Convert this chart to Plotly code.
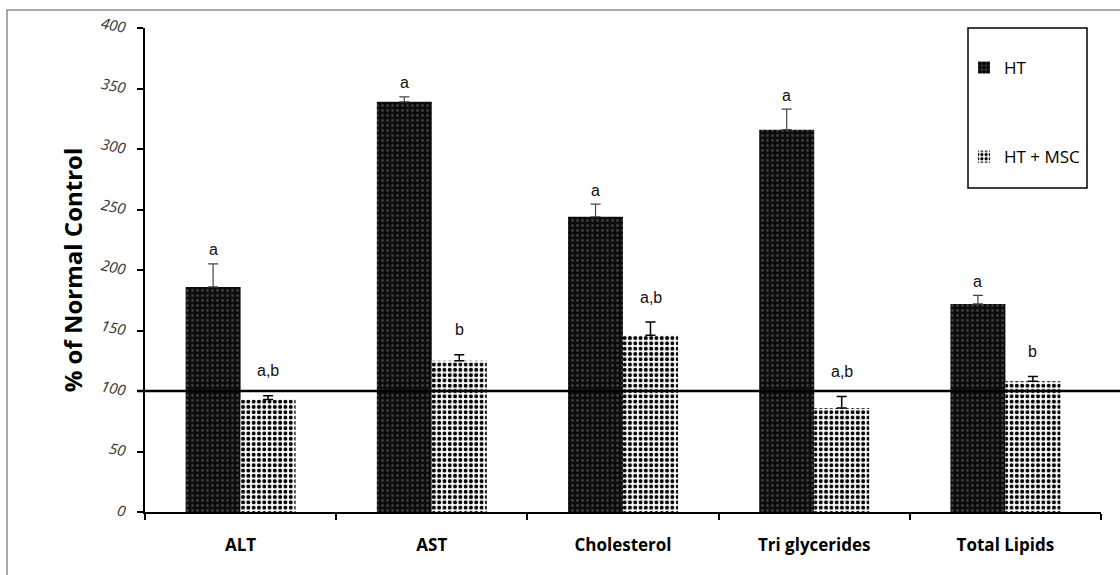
import plotly.graph_objects as go

categories = ["ALT", "AST", "Cholesterol", "Tri glycerides", "Total Lipids"]
ht_values = [186, 339, 244, 316, 172]
ht_errors = [19, 4, 10.5, 17, 7]
ht_labels = ["a", "a", "a", "a", "a"]
msc_values = [93, 125, 146, 86, 108]
msc_errors = [3, 5, 11, 9.5, 4]
msc_labels = ["a,b", "b", "a,b", "a,b", "b"]
y_ticks = [0, 50, 100, 150, 200, 250, 300, 350, 400]
reference_level = 100

W, H = 1120, 575
L, R, T, B = 145, 19, 28, 63
pw, ph = W - L - R, H - T - B

def px_x(x):
    return (x - L) / pw

def px_y(y):
    return (H - B - y) / ph

fig = go.Figure()
fig.add_trace(go.Bar(
    name="HT", x=categories, y=ht_values,
    marker=dict(color="#111111", line=dict(width=0),
                pattern=dict(shape=".", bgcolor="#0c0c0c", fgcolor="#3e3e3e",
                             size=5, solidity=0.25, fillmode="replace")),
    error_y=dict(type="data", array=ht_errors, arrayminus=[0]*5, symmetric=False,
                 color="#444444", thickness=1.2, width=5),
    legendgroup="g1",
))
fig.add_trace(go.Bar(
    name="HT + MSC", x=categories, y=msc_values,
    marker=dict(color="#000000", line=dict(width=0),
                pattern=dict(shape=".", bgcolor="#ffffff", fgcolor="#000000",
                             size=5.3, solidity=0.45, fillmode="replace")),
    error_y=dict(type="data", array=msc_errors, arrayminus=[0]*5, symmetric=False,
                 color="#000000", thickness=1.5, width=5),
    legendgroup="g2",
))

annotations = []
for i, c in enumerate(categories):
    annotations.append(dict(x=c, y=ht_values[i] + ht_errors[i], text=ht_labels[i],
                            xref="x", yref="y", xshift=-27.5, yshift=14, showarrow=False,
                            font=dict(family="Liberation Sans", size=16, color="#111")))
    annotations.append(dict(x=c, y=msc_values[i] + msc_errors[i], text=msc_labels[i],
                            xref="x", yref="y", xshift=27.5, yshift=25, showarrow=False,
                            font=dict(family="Liberation Sans", size=16, color="#111")))

shapes = [
    # outer frame
    dict(type="rect", xref="paper", yref="paper",
         x0=px_x(7), x1=px_x(W + 10), y0=px_y(H + 10), y1=px_y(10),
         line=dict(color="#8a8a8a", width=1.5), fillcolor="rgba(0,0,0,0)", layer="below"),
    # reference line
    dict(type="line", xref="paper", yref="y", x0=px_x(137), x1=px_x(W + 5),
         y0=reference_level, y1=reference_level, line=dict(color="black", width=2.5)),
    # legend box
    dict(type="rect", xref="paper", yref="paper",
         x0=px_x(968), x1=px_x(1087), y0=px_y(188), y1=px_y(28),
         line=dict(color="black", width=1.5), fillcolor="white", layer="below"),
]

fig.update_layout(
    width=W, height=H,
    margin=dict(l=L, r=R, t=T, b=B),
    paper_bgcolor="white", plot_bgcolor="white",
    barmode="group", bargap=0.425, bargroupgap=0,
    showlegend=True,
    legend=dict(x=px_x(964), y=px_y(50), xanchor="left", yanchor="top",
                bgcolor="rgba(0,0,0,0)", borderwidth=0,
                font=dict(family="Open Sans", size=17, color="black"),
                tracegroupgap=64, traceorder="grouped", itemwidth=30),
    annotations=annotations,
    shapes=shapes,
    xaxis=dict(showline=True, linecolor="black", linewidth=2, ticks="outside",
               tickson="boundaries", ticklen=6, tickwidth=2, tickcolor="black",
               ticklabelstandoff=17,
               tickfont=dict(family="Open Sans", size=17, color="black", weight="bold"),
               showgrid=False, zeroline=False),
    yaxis=dict(range=[0, 400], tickvals=y_ticks, showline=True, linecolor="black",
               linewidth=2, ticks="outside", ticklen=6, tickwidth=2, tickcolor="black",
               tickangle=12, ticklabelstandoff=8,
               tickfont=dict(family="Open Sans", size=15, color="#333", style="italic"),
               showgrid=False, zeroline=False,
               title=dict(text="% of Normal Control", standoff=10,
                          font=dict(family="Open Sans", size=24, color="black", weight="bold"))),
)

fig.write_html("out.html")
